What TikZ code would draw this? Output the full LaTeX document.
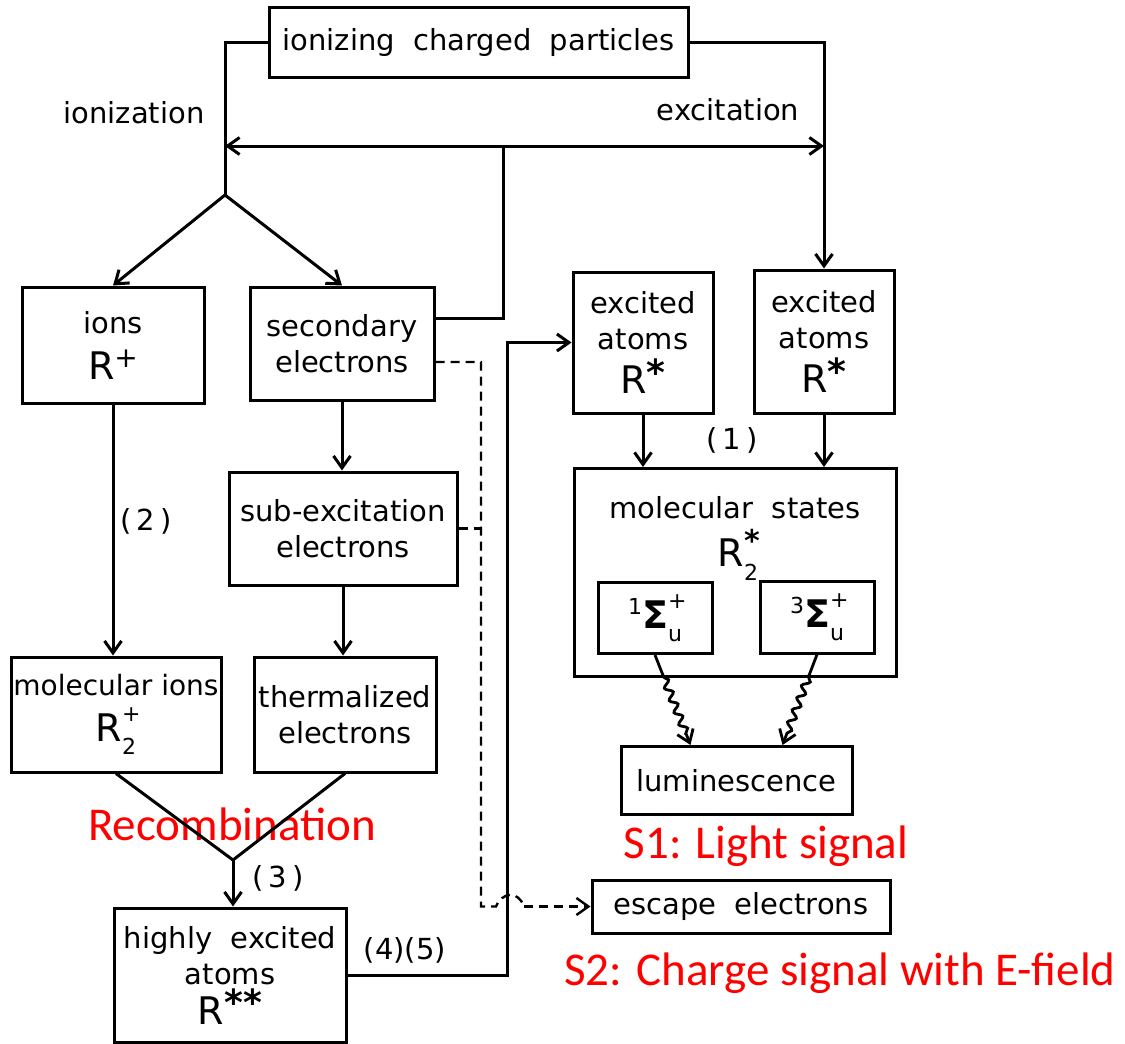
\documentclass[tikz,border=0pt]{standalone}
\usepackage{fontspec}
\setmainfont{DejaVu Sans}
\newfontfamily\calib{Carlito}
\usetikzlibrary{arrows.meta,decorations.pathmorphing,calc}
\newcommand\dlbl{\fontsize{29}{36}\selectfont}
\newcommand\bigR{\fontsize{38}{42}\selectfont}
\newcommand\smallidx{\fontsize{22}{22}\selectfont}
\newcommand\supsub[2]{\rlap{\raisebox{0.52em}{\smallidx #1}}\raisebox{-0.34em}{\smallidx #2}}
\newcommand\supone[1]{\raisebox{0.3em}{\fontsize{28}{28}\selectfont #1}}
\newcommand\astr{\raisebox{0.22em}{\fontsize{36}{36}\selectfont\bfseries *}}
\begin{document}
\begin{tikzpicture}[x=1pt,y=-1pt,
  >={Straight Barb[length=12pt,width=17pt]},
  box/.style={draw, line width=3pt, inner sep=0pt, align=center, font=\dlbl},
  txt/.style={inner sep=0pt, font=\dlbl},
  conn/.style={line width=3pt},
  arr/.style={conn, ->},
  dsh/.style={line width=2.4pt, dash pattern=on 9pt off 6pt},
  wavy/.style={line width=2.8pt, ->, decorate, decoration={snake, amplitude=3.5pt, segment length=13pt, pre length=24pt, post length=12pt}},
  redlabel/.style={inner sep=0pt, text=red, font=\calib\fontsize{47}{50}\selectfont, anchor=base}
]
\useasboundingbox (0,0) rectangle (1125,1044);

% boxes
\node[box, minimum width=419, minimum height=70] (top) at (478.5,42) {ionizing\ \ charged\ \ particles};
\node[box, minimum width=182, minimum height=116] (ions) at (113,345) {ions\\[10pt]{\bigR R\supone{+}}};
\node[box, minimum width=184, minimum height=113] (sec) at (342,343.5) {secondary\\electrons};
\node[box, minimum width=228, minimum height=113] (sub) at (343,528.5) {sub-excitation\\electrons};
\node[box, minimum width=210, minimum height=115, font=\fontsize{28}{36}\selectfont] (mion) at (116,714.5) {molecular ions\\[10pt]{\bigR R\supsub{+}{2}}};
\node[box, minimum width=182, minimum height=115] (therm) at (345,714.5) {thermalized\\electrons};
\node[box, minimum width=232, minimum height=134] (hea) at (230,975) {highly\ \ excited\\atoms\\[4pt]{\bigR R\astr\astr}};
\node[box, minimum width=140, minimum height=141] (ex1) at (643,342.5) {excited\\atoms\\[8pt]{\bigR R\astr}};
\node[box, minimum width=140, minimum height=143] (ex2) at (824,341.5) {excited\\atoms\\[8pt]{\bigR R\astr}};
\node[box, minimum width=322, minimum height=208] (ms) at (735,572.5) {};
\node[txt] (mstxt) at (735,508) {molecular\ \ states};
\node[txt, font=\bigR] (msR) at (738,555) {R\rlap{\raisebox{0.4em}{\fontsize{30}{30}\selectfont\bfseries *}}\raisebox{-0.36em}{\smallidx 2}};
\node[box, minimum width=114, minimum height=71, font=\bigR] (s1) at (655,618) {\raisebox{0.35em}{\smallidx 1}\textbf{Σ}\supsub{+}{u}};
\node[box, minimum width=114, minimum height=72, font=\bigR] (s2) at (817,617) {\raisebox{0.35em}{\smallidx 3}\textbf{Σ}\supsub{+}{u}};
\node[box, minimum width=231, minimum height=68] (lum) at (736.5,780.5) {luminescence};
\node[box, minimum width=298, minimum height=53] (esc) at (741,906.5) {escape\ \ electrons};

% labels
\node[txt] (ioniz) at (134,113) {ionization};
\node[txt] (excit) at (728,110) {excitation};
\node[txt] (n1) at (732,440) {(\,1\,)};
\node[txt] (n2) at (146,521) {(\,2\,)};
\node[txt] (n3) at (278,878) {(\,3\,)};
\node[txt] (n45) at (405,950) {(4)(5)};
\node[redlabel] (recomb) at (232,840) {Recombination};
\node[redlabel] (sig1) at (766,858) {S1: Light signal};
\node[redlabel] (sig2) at (840,985) {S2: Charge signal with E-field};

% coordinates
\coordinate (br) at (225,195);
\coordinate (hL) at (225,146);
\coordinate (j2) at (503,318);
\coordinate (k) at (507,600);
\coordinate (apex) at (233,860);
\coordinate (d) at (481,362);
\coordinate (h1) at (496,906.5);
\coordinate (h2) at (524,906.5);

% connectors
\draw[conn] (top.west) -| (br);
\draw[arr] (top.east) -| (ex2.north);
\draw[conn, <->] (hL) -- (hL -| ex2.north);
\draw[arr] (br) -- (ions.north);
\draw[arr] (br) -- (sec.north);
\draw[conn] (j2 |- hL) -- (j2) -- (j2 -| sec.east);
\draw[arr] (sec.south) -- (sec.south |- sub.north);
\draw[arr] (sub.south) -- (sub.south |- therm.north);
\draw[arr] (ions.south) -- (ions.south |- mion.north);
\draw[conn] (mion.south) -- (apex) -- (therm.south);
\draw[arr] (apex) -- (apex |- hea.north);
\draw[arr] (hea.east) -- (hea.east -| k) -- (k |- ex1.west) -- (ex1.west);
\draw[arr] (ex1.south) -- (ex1.south |- ms.north);
\draw[arr] (ex2.south) -- (ex2.south |- ms.north);
\draw[wavy] (s1.south) -- ($(lum.north)+(-46,0)$);
\draw[wavy] (s2.south) -- ($(lum.north)+(46,0)$);
\draw[dsh] (d -| sec.east) -- (d) -- (d |- esc.west) -- (h1) .. controls (502,892) and (518,890) .. (h2);
\draw[dsh, ->] (h2) -- (esc.west);
\draw[dsh] (sub.east) -- (sub.east -| d);
\end{tikzpicture}
\end{document}
